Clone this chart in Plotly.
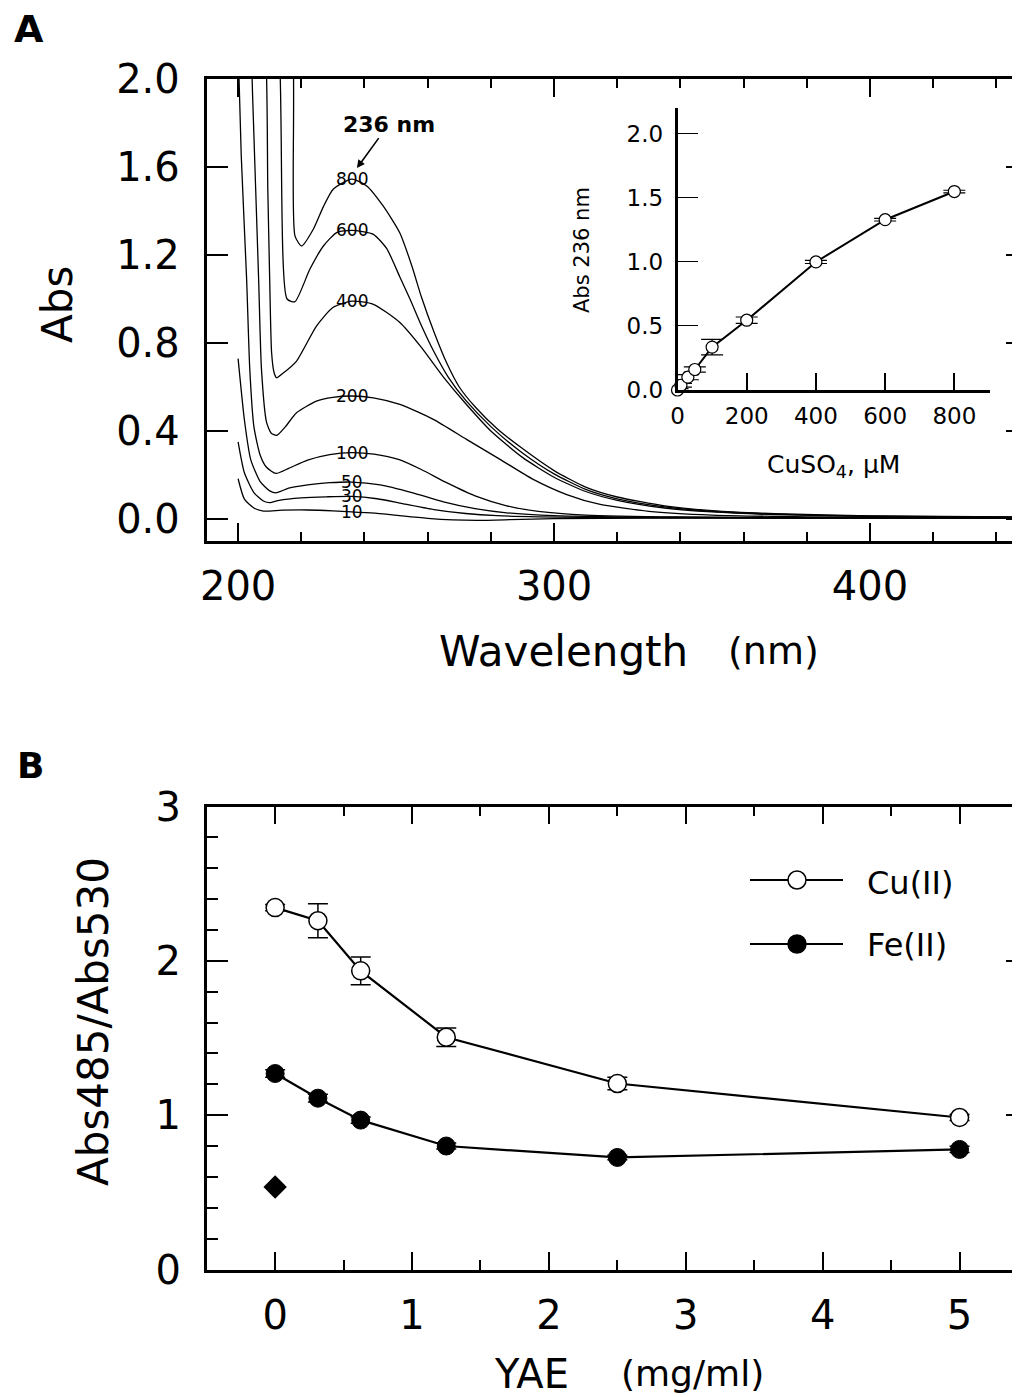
import plotly.graph_objects as go

W, H = 1020, 1397
FONT = "DejaVu Sans"
PAGE_OFFSET = 8  # browser body margin

# ---------------- Panel A: spectra (wavelength nm, absorbance) ----------------
wl_10 = [200, 202, 205, 208, 214, 222, 230, 236, 244, 252, 260, 268, 276, 286, 300, 330, 380, 450]
abs_10 = [0.183, 0.09, 0.05, 0.036, 0.04, 0.041, 0.037, 0.032, 0.026, 0.014, 0.003, -0.004, -0.006, -0.003, 0.002, 0.004, 0.004, 0.004]

wl_30 = [200, 202, 205, 208, 210, 213, 220, 228, 236, 244, 252, 262, 272, 282, 295, 320, 380, 450]
abs_30 = [0.351, 0.21, 0.12, 0.082, 0.074, 0.085, 0.096, 0.101, 0.103, 0.092, 0.07, 0.043, 0.025, 0.015, 0.01, 0.006, 0.004, 0.004]

wl_50 = [200, 202, 204, 207, 210, 212, 216, 222, 229, 236, 245, 255, 265, 275, 285, 300, 330, 380, 450]
abs_50 = [0.729, 0.45, 0.27, 0.17, 0.128, 0.119, 0.14, 0.155, 0.165, 0.168, 0.155, 0.12, 0.078, 0.047, 0.028, 0.015, 0.008, 0.005, 0.005]

wl_100 = [200, 201, 202.7, 203.7, 205, 207, 209, 212, 216, 222, 229, 236, 243, 251, 258, 266, 275, 285, 295, 310, 340, 380, 450]
abs_100 = [2.15, 1.65, 1.09, 0.68, 0.42, 0.29, 0.235, 0.207, 0.23, 0.268, 0.293, 0.302, 0.295, 0.27, 0.225, 0.165, 0.105, 0.06, 0.035, 0.018, 0.009, 0.006, 0.005]

wl_200 = [200, 204.2, 204.6, 206.5, 207.4, 209, 210.5, 212.2, 215, 218.5, 224.8, 230, 236, 242.8, 251.2, 261.8, 272.3, 282.9, 293.4, 304, 314.6, 330, 350, 380, 450]
abs_200 = [3.0, 2.1, 1.92, 1.09, 0.68, 0.44, 0.39, 0.38, 0.42, 0.483, 0.536, 0.553, 0.559, 0.551, 0.521, 0.453, 0.362, 0.271, 0.18, 0.111, 0.066, 0.035, 0.018, 0.01, 0.006]

wl_400 = [200, 208.5, 209.4, 210, 210.6, 211.4, 212.2, 214, 218.5, 224.8, 230, 236, 242.8, 251.2, 258, 265, 272, 280, 290, 300, 310, 320, 335, 350, 370, 400, 450]
abs_400 = [3.0, 2.2, 1.5, 1.09, 0.757, 0.665, 0.642, 0.66, 0.718, 0.877, 0.961, 0.99, 0.976, 0.893, 0.78, 0.645, 0.525, 0.40, 0.28, 0.19, 0.125, 0.085, 0.05, 0.032, 0.02, 0.012, 0.007]

wl_600 = [200, 212.8, 215.5, 218, 222.7, 227, 231.2, 236, 242.8, 247, 251.2, 254.4, 258, 262, 266.5, 272, 280, 290, 300, 310, 320, 335, 350, 370, 400, 450]
abs_600 = [3.5, 2.2, 1.0, 0.988, 1.135, 1.241, 1.302, 1.312, 1.294, 1.23, 1.10, 1.0, 0.88, 0.76, 0.645, 0.54, 0.42, 0.30, 0.205, 0.135, 0.092, 0.055, 0.035, 0.022, 0.013, 0.008]

wl_800 = [200, 217.2, 218, 220.1, 223.8, 227, 230.1, 236, 240.7, 245.9, 251.2, 255, 258, 262, 266, 270, 275, 282, 290, 300, 310, 320, 335, 350, 370, 400, 450]
abs_800 = [4.0, 2.2, 1.287, 1.241, 1.317, 1.42, 1.499, 1.545, 1.514, 1.423, 1.30, 1.15, 1.01, 0.85, 0.71, 0.60, 0.51, 0.41, 0.32, 0.22, 0.145, 0.10, 0.06, 0.038, 0.024, 0.014, 0.009]

conc_labels = ["10", "30", "50", "100", "200", "400", "600", "800"]
label_wl = 236

# ---------------- Inset: Abs 236 nm vs CuSO4 ----------------
cuso4_um = [0, 10, 30, 50, 100, 200, 400, 600, 800]
abs236 = [0.0, 0.037, 0.10, 0.16, 0.335, 0.545, 1.0, 1.33, 1.55]
abs236_err = [0.01, 0.015, 0.02, 0.02, 0.06, 0.025, 0.012, 0.01, 0.01]

# ---------------- Panel B ----------------
yae_mg_ml = [0, 0.3125, 0.625, 1.25, 2.5, 5]
cu_ratio = [2.345, 2.26, 1.935, 1.505, 1.205, 0.985]
cu_err = [0.02, 0.11, 0.09, 0.06, 0.04, 0.02]
fe_ratio = [1.27, 1.11, 0.968, 0.80, 0.726, 0.778]
fe_err = [0.025, 0.025, 0.02, 0.02, 0.015, 0.02]
control_x = [0]
control_y = [0.535]


def px(x):
    return (x - PAGE_OFFSET) / W


def py(y):
    return 1 - (y - PAGE_OFFSET) / H


spectra = [(wl_10, abs_10), (wl_30, abs_30), (wl_50, abs_50), (wl_100, abs_100),
           (wl_200, abs_200), (wl_400, abs_400), (wl_600, abs_600), (wl_800, abs_800)]

fig = go.Figure()

for (wl, ab), lab in zip(spectra, conc_labels):
    fig.add_trace(go.Scatter(x=wl, y=ab, mode="lines", xaxis="x", yaxis="y",
                             line=dict(color="black", width=1.3, shape="spline", smoothing=0.6),
                             showlegend=False, hoverinfo="skip"))

fig.add_trace(go.Scatter(x=cuso4_um, y=abs236, mode="lines+markers", xaxis="x2", yaxis="y2",
                         line=dict(color="black", width=2),
                         marker=dict(symbol="circle", size=12, color="white",
                                     line=dict(color="black", width=1.2)),
                         error_y=dict(type="data", array=abs236_err, color="black",
                                      thickness=1.2, width=11),
                         cliponaxis=False, showlegend=False))

fig.add_trace(go.Scatter(x=yae_mg_ml, y=cu_ratio, mode="lines+markers", xaxis="x3", yaxis="y3",
                         line=dict(color="black", width=2.2),
                         marker=dict(symbol="circle", size=18, color="white",
                                     line=dict(color="black", width=1.5)),
                         error_y=dict(type="data", array=cu_err, color="black",
                                      thickness=1.5, width=10),
                         showlegend=False))
fig.add_trace(go.Scatter(x=yae_mg_ml, y=fe_ratio, mode="lines+markers", xaxis="x3", yaxis="y3",
                         line=dict(color="black", width=2.2),
                         marker=dict(symbol="circle", size=18, color="black",
                                     line=dict(color="black", width=1)),
                         error_y=dict(type="data", array=fe_err, color="black",
                                      thickness=1.5, width=10),
                         showlegend=False))
fig.add_trace(go.Scatter(x=control_x, y=control_y, mode="markers", xaxis="x3", yaxis="y3",
                         marker=dict(symbol="diamond", size=18, color="black"),
                         showlegend=False))

# manual legend (pixel-like overlay axes on panel B)
LEG_X0, LEG_X1, LEG_MX = 750, 843, 797
LEG_Y_CU, LEG_Y_FE = 880, 944
LEG_TX = 865
B_LEFT, B_RIGHT, B_BOTTOM, B_TOP = 206.7, 1028, 1269.5, 806.5
for yy, fill in [(LEG_Y_CU, "white"), (LEG_Y_FE, "black")]:
    fig.add_trace(go.Scatter(x=[LEG_X0, LEG_X1], y=[yy, yy], mode="lines", xaxis="x4", yaxis="y4",
                             line=dict(color="black", width=2.2), showlegend=False, hoverinfo="skip"))
    fig.add_trace(go.Scatter(x=[LEG_MX], y=[yy], mode="markers", xaxis="x4", yaxis="y4",
                             marker=dict(symbol="circle", size=18, color=fill,
                                         line=dict(color="black", width=1.5)),
                             showlegend=False, hoverinfo="skip"))

tickfont_big = dict(family=FONT, size=40, color="black")
tickfont_small = dict(family=FONT, size=23, color="black")

A_dom_x = [px(206.5), px(1028)]
A_dom_y = [py(541), py(79)]
B_dom_x = [px(B_LEFT), px(B_RIGHT)]
B_dom_y = [py(B_BOTTOM), py(B_TOP)]

common = dict(showline=True, linecolor="black", linewidth=2.5, showgrid=False, zeroline=False,
              ticks="inside", tickcolor="black", mirror="allticks")

fig.update_layout(
    width=W, height=H, margin=dict(l=0, r=0, t=0, b=0, autoexpand=False),
    paper_bgcolor="white", plot_bgcolor="white",
    font=dict(family=FONT, color="black"),
    xaxis=dict(domain=A_dom_x, range=[190, 450], anchor="y", tickmode="linear", tick0=200, dtick=100,
               ticklen=18, tickwidth=2.2, tickfont=tickfont_big, ticklabelstandoff=8,
               minor=dict(ticks="inside", dtick=20, tick0=200, ticklen=9, tickwidth=1.5, tickcolor="black"),
               **common),
    yaxis=dict(domain=A_dom_y, range=[-0.1, 2.0], anchor="x", tickmode="linear", tick0=0, dtick=0.4,
               tickformat=".1f", ticklen=22, tickwidth=2.2, tickfont=tickfont_big, ticklabelstandoff=16,
               **common),
    xaxis2=dict(domain=[px(677.5), px(990)], range=[0, 903], anchor="y2", tickmode="array",
                tickvals=[0, 200, 400, 600, 800], showline=True, linecolor="black", linewidth=2.5,
                showgrid=False, zeroline=False, ticks="inside", ticklen=17, tickwidth=1.5, tickcolor="black",
                tickfont=tickfont_small, ticklabelstandoff=4),
    yaxis2=dict(domain=[py(390), py(108.3)], range=[0, 2.2], anchor="x2", tickmode="linear", tick0=0,
                dtick=0.5, tickformat=".1f", showline=True, linecolor="black", linewidth=2.5,
                showgrid=False, zeroline=False, ticks="inside", ticklen=21, tickwidth=1, tickcolor="black",
                tickfont=tickfont_small, ticklabelstandoff=7),
    xaxis3=dict(domain=B_dom_x, range=[-0.5, 5.5], anchor="y3", tickmode="linear", tick0=0, dtick=1,
                ticklen=18, tickwidth=2.2, tickfont=tickfont_big, ticklabelstandoff=9,
                minor=dict(ticks="inside", dtick=0.5, tick0=0, ticklen=10, tickwidth=1.5, tickcolor="black"),
                **common),
    yaxis3=dict(domain=B_dom_y, range=[0, 3], anchor="x3", tickmode="linear", tick0=0, dtick=1,
                ticklen=22, tickwidth=2.2, tickfont=tickfont_big, ticklabelstandoff=15,
                minor=dict(ticks="inside", dtick=0.2, tick0=0, ticklen=12, tickwidth=1.5, tickcolor="black"),
                **common),
    xaxis4=dict(domain=B_dom_x, range=[B_LEFT, B_RIGHT], anchor="y4", overlaying="x3", visible=False,
                fixedrange=True),
    yaxis4=dict(domain=B_dom_y, range=[B_BOTTOM, B_TOP], anchor="x4", overlaying="y3", visible=False,
                fixedrange=True),
)


def note(x, y, text, size, angle=0, bold=False):
    return dict(x=px(x), y=py(y), xref="paper", yref="paper", text=f"<b>{text}</b>" if bold else text,
                textangle=angle, showarrow=False, xanchor="center", yanchor="middle",
                font=dict(family=FONT, size=size, color="black"))


ann = []
# curve labels centred on each spectrum at 236 nm
for (wl, ab), lab in zip(spectra, conc_labels):
    yv = ab[wl.index(label_wl)]
    ann.append(dict(x=label_wl, y=yv, xref="x", yref="y", text=lab, showarrow=False,
                    font=dict(family=FONT, size=17, color="black"), xanchor="center", yanchor="middle"))

ann += [
    note(29, 29, "A", 38, bold=True),
    note(30, 765, "B", 36, bold=True),
    note(57, 305, "Abs", 42, angle=-90),
    note(563, 652, "Wavelength", 42),
    note(773, 651, "(nm)", 38),
    note(582, 250, "Abs 236 nm", 21, angle=-90),
    note(833, 466, "CuSO<sub>4</sub>, µM", 25),
    note(93, 1022, "Abs485/Abs530", 42, angle=-90),
    note(531, 1374, "YAE", 40),
    note(692, 1373, "(mg/ml)", 36),
    dict(x=237.6, y=1.595, xref="x", yref="y", text="<b>236 nm</b>", showarrow=True,
         ax=32, ay=-44, arrowhead=2, arrowsize=1, arrowwidth=1.6, arrowcolor="black",
         font=dict(family=FONT, size=22, color="black")),
    dict(x=LEG_TX, y=LEG_Y_CU + 3, xref="x4", yref="y4", text="Cu(II)", showarrow=False,
         xanchor="left", yanchor="middle", font=dict(family=FONT, size=32, color="black")),
    dict(x=LEG_TX, y=LEG_Y_FE + 1, xref="x4", yref="y4", text="Fe(II)", showarrow=False,
         xanchor="left", yanchor="middle", font=dict(family=FONT, size=32, color="black")),
]
fig.update_layout(annotations=ann)

fig.write_html("out.html")
